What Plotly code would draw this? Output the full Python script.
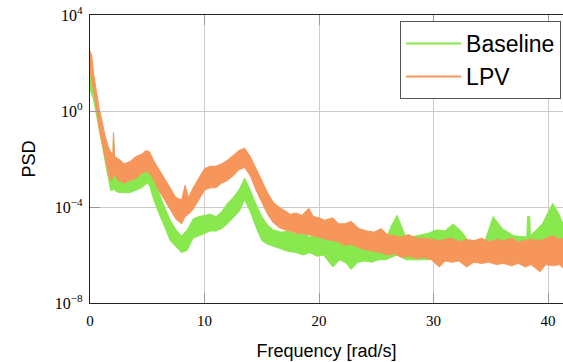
import plotly.graph_objects as go

# ---- Data (log10 of PSD envelopes: upper / lower edge of the noisy band) ----
lpv_freq = [0.0, 0.15, 0.3, 0.5, 0.8, 1.0, 1.3, 1.6, 1.8, 2.0, 2.05, 2.15, 2.5, 3.0, 3.5, 4.0, 4.5, 4.9,
            5.2, 5.6, 6.0, 6.5, 7.0, 7.5, 8.0, 8.3, 8.6, 9.0, 9.5, 10.0, 10.5, 11.0, 11.5, 12.0, 12.5,
            13.0, 13.5, 14.0, 14.5, 15.0, 15.5,
            16.0, 16.5, 17.0, 17.5, 18.0, 18.5, 19.1, 19.5, 20.0, 20.5, 21.2, 21.7, 22.2, 22.8, 23.5,
            24.2, 24.8, 25.4, 26.0, 26.6, 27.2, 27.8, 28.5, 29.2, 29.8, 30.5, 31.0, 31.6, 32.2, 32.9,
            33.5, 34.2, 34.8, 35.5, 36.1, 36.8, 37.4, 38.0, 38.5, 39.3, 39.8, 40.4, 41.0, 41.3]
lpv_upper = [2.5, 2.3, 1.6, 1.0, 0.1, -0.3, -1.0, -1.5, -1.7, -1.8, -0.9, -1.9, -2.0, -2.2, -2.1, -1.9, -1.8, -1.65,
             -1.7, -2.1, -2.4, -2.8, -3.2, -3.6, -3.7, -3.1, -3.6, -3.2, -2.8, -2.4, -2.3, -2.3, -2.2, -2.05, -1.85,
             -1.65, -1.55, -1.9, -2.4, -2.9, -3.4,
             -3.8, -4.0, -4.15, -4.3, -4.25, -4.35, -4.05, -4.4, -4.45, -4.55, -4.45, -4.7, -4.7, -4.6, -4.9,
             -5.0, -5.05, -4.9, -5.15, -5.2, -5.25, -5.15, -5.3, -5.3, -5.35, -5.4, -5.35, -5.3, -5.45, -5.35,
             -5.4, -5.3, -5.45, -5.35, -5.4, -5.3, -5.45, -5.4, -5.35, -5.4, -5.3, -5.2, -5.35, -5.3]
lpv_lower = [1.6, 1.3, 0.9, 0.3, -0.7, -1.1, -1.9, -2.6, -2.9, -2.8, -2.6, -2.7, -2.9, -3.0, -2.9, -2.8, -2.6, -2.5,
             -2.6, -2.9, -3.3, -3.7, -4.1, -4.5, -4.7, -4.4, -4.3, -4.1, -3.7, -3.3, -3.2, -3.2, -3.0, -2.9, -2.7,
             -2.45, -2.35, -2.7, -3.3, -3.8, -4.3,
             -4.65, -4.85, -4.95, -5.0, -5.1, -5.1, -5.15, -5.2, -5.25, -5.35, -5.4, -5.45, -5.6, -5.55, -5.7,
             -5.8, -5.85, -5.9, -6.0, -5.95, -6.1, -6.05, -6.15, -6.1, -6.2, -6.5, -6.25, -6.3, -6.25, -6.5,
             -6.3, -6.35, -6.3, -6.4, -6.35, -6.45, -6.35, -6.5, -6.4, -6.7, -6.4, -6.45, -6.4, -6.55]

base_freq = [0.0, 0.3, 0.6, 1.0, 1.3, 1.6, 1.8, 2.0, 2.05, 2.15, 2.5, 3.0, 3.5, 4.0, 4.5, 5.0, 5.2, 5.5,
             6.0, 6.5, 7.0, 7.5, 8.0, 8.5, 9.0, 9.5, 10.0, 10.5, 11.0, 11.5, 12.0, 12.5, 13.0, 13.5, 14.0,
             14.5, 15.0, 15.5,
             16.0, 16.7, 17.3, 18.0, 18.6, 19.2, 19.8, 20.4, 21.2, 21.8, 22.4, 22.8, 23.4, 24.0, 24.6, 25.2,
             25.8, 26.3, 26.8, 27.2, 27.6, 28.5, 29.5, 30.3, 31.0, 31.7, 32.5, 33.0, 34.5, 35.2, 36.0, 37.0,
             38.0, 38.15, 38.2, 38.4, 38.45, 39.5, 40.4, 40.9, 41.3]
base_upper = [1.7, 1.2, 0.4, -0.5, -1.3, -1.8, -2.3, -2.4, -0.9, -2.5, -2.6, -2.7, -2.75, -2.65, -2.6, -2.45, -2.4, -2.75,
              -3.4, -4.0, -4.55, -4.95, -5.2, -4.95, -4.5, -4.4, -4.35, -4.3, -4.4, -4.2, -3.85, -3.6, -3.3, -2.8, -3.3,
              -3.9, -4.4, -4.75,
              -4.95, -5.05, -5.0, -5.15, -5.1, -5.25, -5.2, -5.3, -5.3, -5.4, -5.35, -5.45, -5.5, -5.55, -5.6, -5.55,
              -5.4, -4.8, -4.35, -4.8, -5.3, -5.2, -5.1, -4.95, -5.0, -4.7, -5.05, -5.4, -5.4, -4.4, -4.9, -5.2,
              -5.25, -5.2, -4.4, -4.4, -5.2, -4.7, -3.85, -4.25, -4.7]
base_lower = [0.9, 0.5, -0.3, -1.3, -2.0, -2.8, -3.3, -3.3, -3.2, -3.3, -3.4, -3.4, -3.4, -3.3, -3.2, -3.0, -3.1, -3.6,
              -4.25, -4.8, -5.4, -5.65, -5.9, -5.8, -5.3, -5.2, -5.1, -5.0, -5.0, -4.9, -4.7, -4.45, -4.2, -3.7, -4.2,
              -4.85, -5.4, -5.55,
              -5.65, -5.75, -5.85, -5.9, -6.0, -5.9, -6.05, -6.0, -6.5, -6.2, -6.35, -6.6, -6.3, -6.25, -6.3, -6.2,
              -6.2, -6.1, -6.0, -6.1, -6.2, -6.2, -6.2, -6.1, -6.1, -6.1, -6.1, -6.2, -6.2, -6.1, -6.1, -6.2,
              -6.2, -6.2, -6.1, -6.1, -6.2, -6.1, -6.0, -6.1, -6.1]

series = [
    ("Baseline", base_freq, base_upper, base_lower, "#88e84e"),
    ("LPV", lpv_freq, lpv_upper, lpv_lower, "#f7965a"),
]

y_tickvals = [1e-8, 1e-4, 1e0, 1e4]
y_ticktext = ["10<sup>\u22128</sup>", "10<sup>\u22124</sup>", "10<sup>0</sup>", "10<sup>4</sup>"]
x_tickvals = [0, 10, 20, 30, 40]

fig = go.Figure()
for name, f, up, lo, color in series:
    xs = list(f) + list(f)[::-1]
    ys = [10 ** v for v in up] + [10 ** v for v in lo][::-1]
    fig.add_trace(go.Scatter(x=xs, y=ys, fill="toself", fillcolor=color, mode="lines",
                             line=dict(color=color, width=1), showlegend=False, hoverinfo="skip"))
for name, f, up, lo, color in series:
    fig.add_trace(go.Scatter(x=[None], y=[None], mode="lines", name=name,
                             line=dict(color=color, width=2)))

fig.update_layout(
    width=563, height=362,
    margin=dict(l=90, r=0, t=15, b=59),
    paper_bgcolor="white", plot_bgcolor="white",
    legend=dict(x=0.996, xanchor="right", y=0.979, yanchor="top",
                bordercolor="#555555", borderwidth=1, bgcolor="white",
                font=dict(family="Liberation Sans", size=23, color="black"),
                tracegroupgap=0, itemwidth=55),
    showlegend=True,
)
fig.update_xaxes(range=[0, 41.3], tickvals=x_tickvals, ticktext=[str(v) for v in x_tickvals],
                 showgrid=True, gridcolor="#cccccc", gridwidth=1.3,
                 showline=True, linecolor="#222222", linewidth=1.3, mirror="ticks",
                 ticks="inside", ticklen=10, tickcolor="#999999", zeroline=False,
                 tickfont=dict(family="Liberation Serif", size=15, color="black"),
                 ticklabelstandoff=4,
                 title=dict(text="Frequency [rad/s]", standoff=16,
                            font=dict(family="Liberation Sans", size=18, color="black")))
fig.update_yaxes(type="log", range=[-8, 4], tickvals=y_tickvals, ticktext=y_ticktext,
                 showgrid=True, gridcolor="#cccccc", gridwidth=1.3,
                 showline=True, linecolor="#222222", linewidth=1.3,
                 ticks="inside", ticklen=10, tickcolor="#999999", zeroline=False,
                 tickfont=dict(family="Liberation Serif", size=16, color="black"),
                 ticklabelstandoff=3,
                 title=dict(text="PSD", standoff=14,
                            font=dict(family="Liberation Sans", size=18, color="black")))

fig.write_html("out.html")
